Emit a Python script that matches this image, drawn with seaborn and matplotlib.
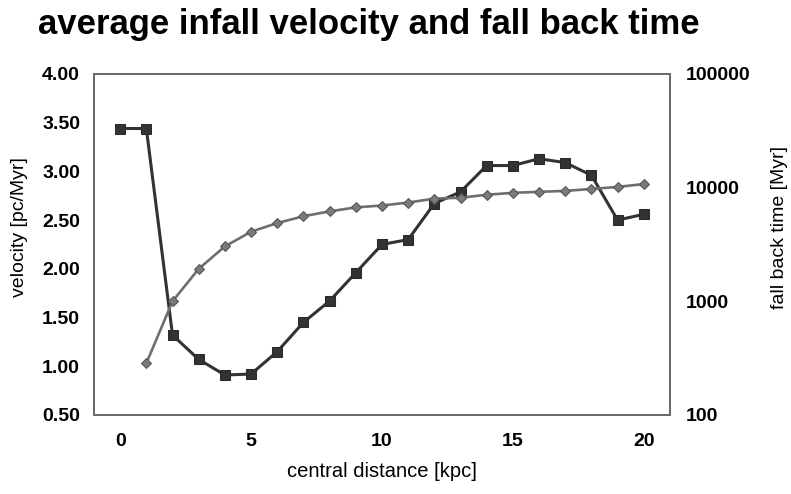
import numpy as np
import pandas as pd
import matplotlib
matplotlib.use("Agg")
import matplotlib.pyplot as plt
import seaborn as sns
from matplotlib.ticker import FixedLocator, NullLocator, FormatStrFormatter

# central distance [kpc]
dist_vel = list(range(0, 21))
velocity = [3.44, 3.44, 1.32, 1.07, 0.91, 0.92, 1.15, 1.45, 1.67, 1.96, 2.25,
            2.30, 2.67, 2.79, 3.06, 3.06, 3.13, 3.09, 2.96, 2.50, 2.56]

dist_fall = list(range(1, 21))
fall_time = [285, 1000, 1930, 3040, 4090, 4880, 5600, 6180, 6700, 6960,
             7390, 8000, 8150, 8650, 9000, 9180, 9360, 9740, 10140, 10750]

vel_ticks = [0.5, 1.0, 1.5, 2.0, 2.5, 3.0, 3.5, 4.0]
time_ticks = [100, 1000, 10000, 100000]
x_ticks = [0, 5, 10, 15, 20]

df_vel = pd.DataFrame({"dist": dist_vel, "velocity": velocity})
df_fall = pd.DataFrame({"dist": dist_fall, "fall_time": fall_time})

sns.set_theme(style="white")
plt.rcParams["font.family"] = ["Liberation Sans", "DejaVu Sans"]
for key in ("text.color", "axes.labelcolor", "xtick.color", "ytick.color"):
    plt.rcParams[key] = "black"

fig = plt.figure(figsize=(7.91, 4.94), dpi=100)
ax = fig.add_axes([0.1188, 0.16, 0.7282, 0.6903])
ax2 = ax.twinx()

sns.lineplot(data=df_vel, x="dist", y="velocity", ax=ax, color="#333333",
             marker="s", markersize=7.5, markeredgecolor="#2a2a2a",
             linewidth=2.2, zorder=3)
sns.lineplot(data=df_fall, x="dist", y="fall_time", ax=ax2, color="#6e6e6e",
             marker="D", markersize=5.5, markeredgecolor="#555555",
             markerfacecolor="#7a7a7a", linewidth=1.9, zorder=2)

ax.set_xlim(-1, 21)
ax.set_ylim(0.5, 4.0)
ax2.set_yscale("log")
ax2.set_ylim(100, 100000)

ax.set_xticks(x_ticks)
ax.set_yticks(vel_ticks)
ax.yaxis.set_major_formatter(FormatStrFormatter("%.2f"))
ax2.yaxis.set_major_locator(FixedLocator(time_ticks))
ax2.yaxis.set_minor_locator(NullLocator())
ax2.set_yticklabels([str(t) for t in time_ticks])

for a in (ax, ax2):
    for s in a.spines.values():
        s.set_color("#6a6a6a")
        s.set_linewidth(1.3)
    a.tick_params(length=0, labelsize=14, labelcolor="black")
    for lbl in a.get_xticklabels() + a.get_yticklabels():
        lbl.set_fontweight("bold")

ax.tick_params(axis="y", pad=10)
ax.tick_params(axis="x", pad=13)
ax2.tick_params(axis="y", pad=11)

ax.set_xlabel("central distance [kpc]", fontsize=14.5, va="center")
ax.xaxis.set_label_coords(0.5, -0.167)
ax.set_ylabel("velocity [pc/Myr]", fontsize=14, va="center")
ax.yaxis.set_label_coords(-0.130, 0.551)
ax2.set_ylabel("fall back time [Myr]", fontsize=14, va="center")
ax2.yaxis.set_label_coords(1.191, 0.551)

fig.text(0.048, 1 - 34 / 494, "average infall velocity and fall back time",
         fontsize=25, fontweight="bold", ha="left", va="baseline")

fig.savefig("out.png", dpi=100, facecolor="white")
